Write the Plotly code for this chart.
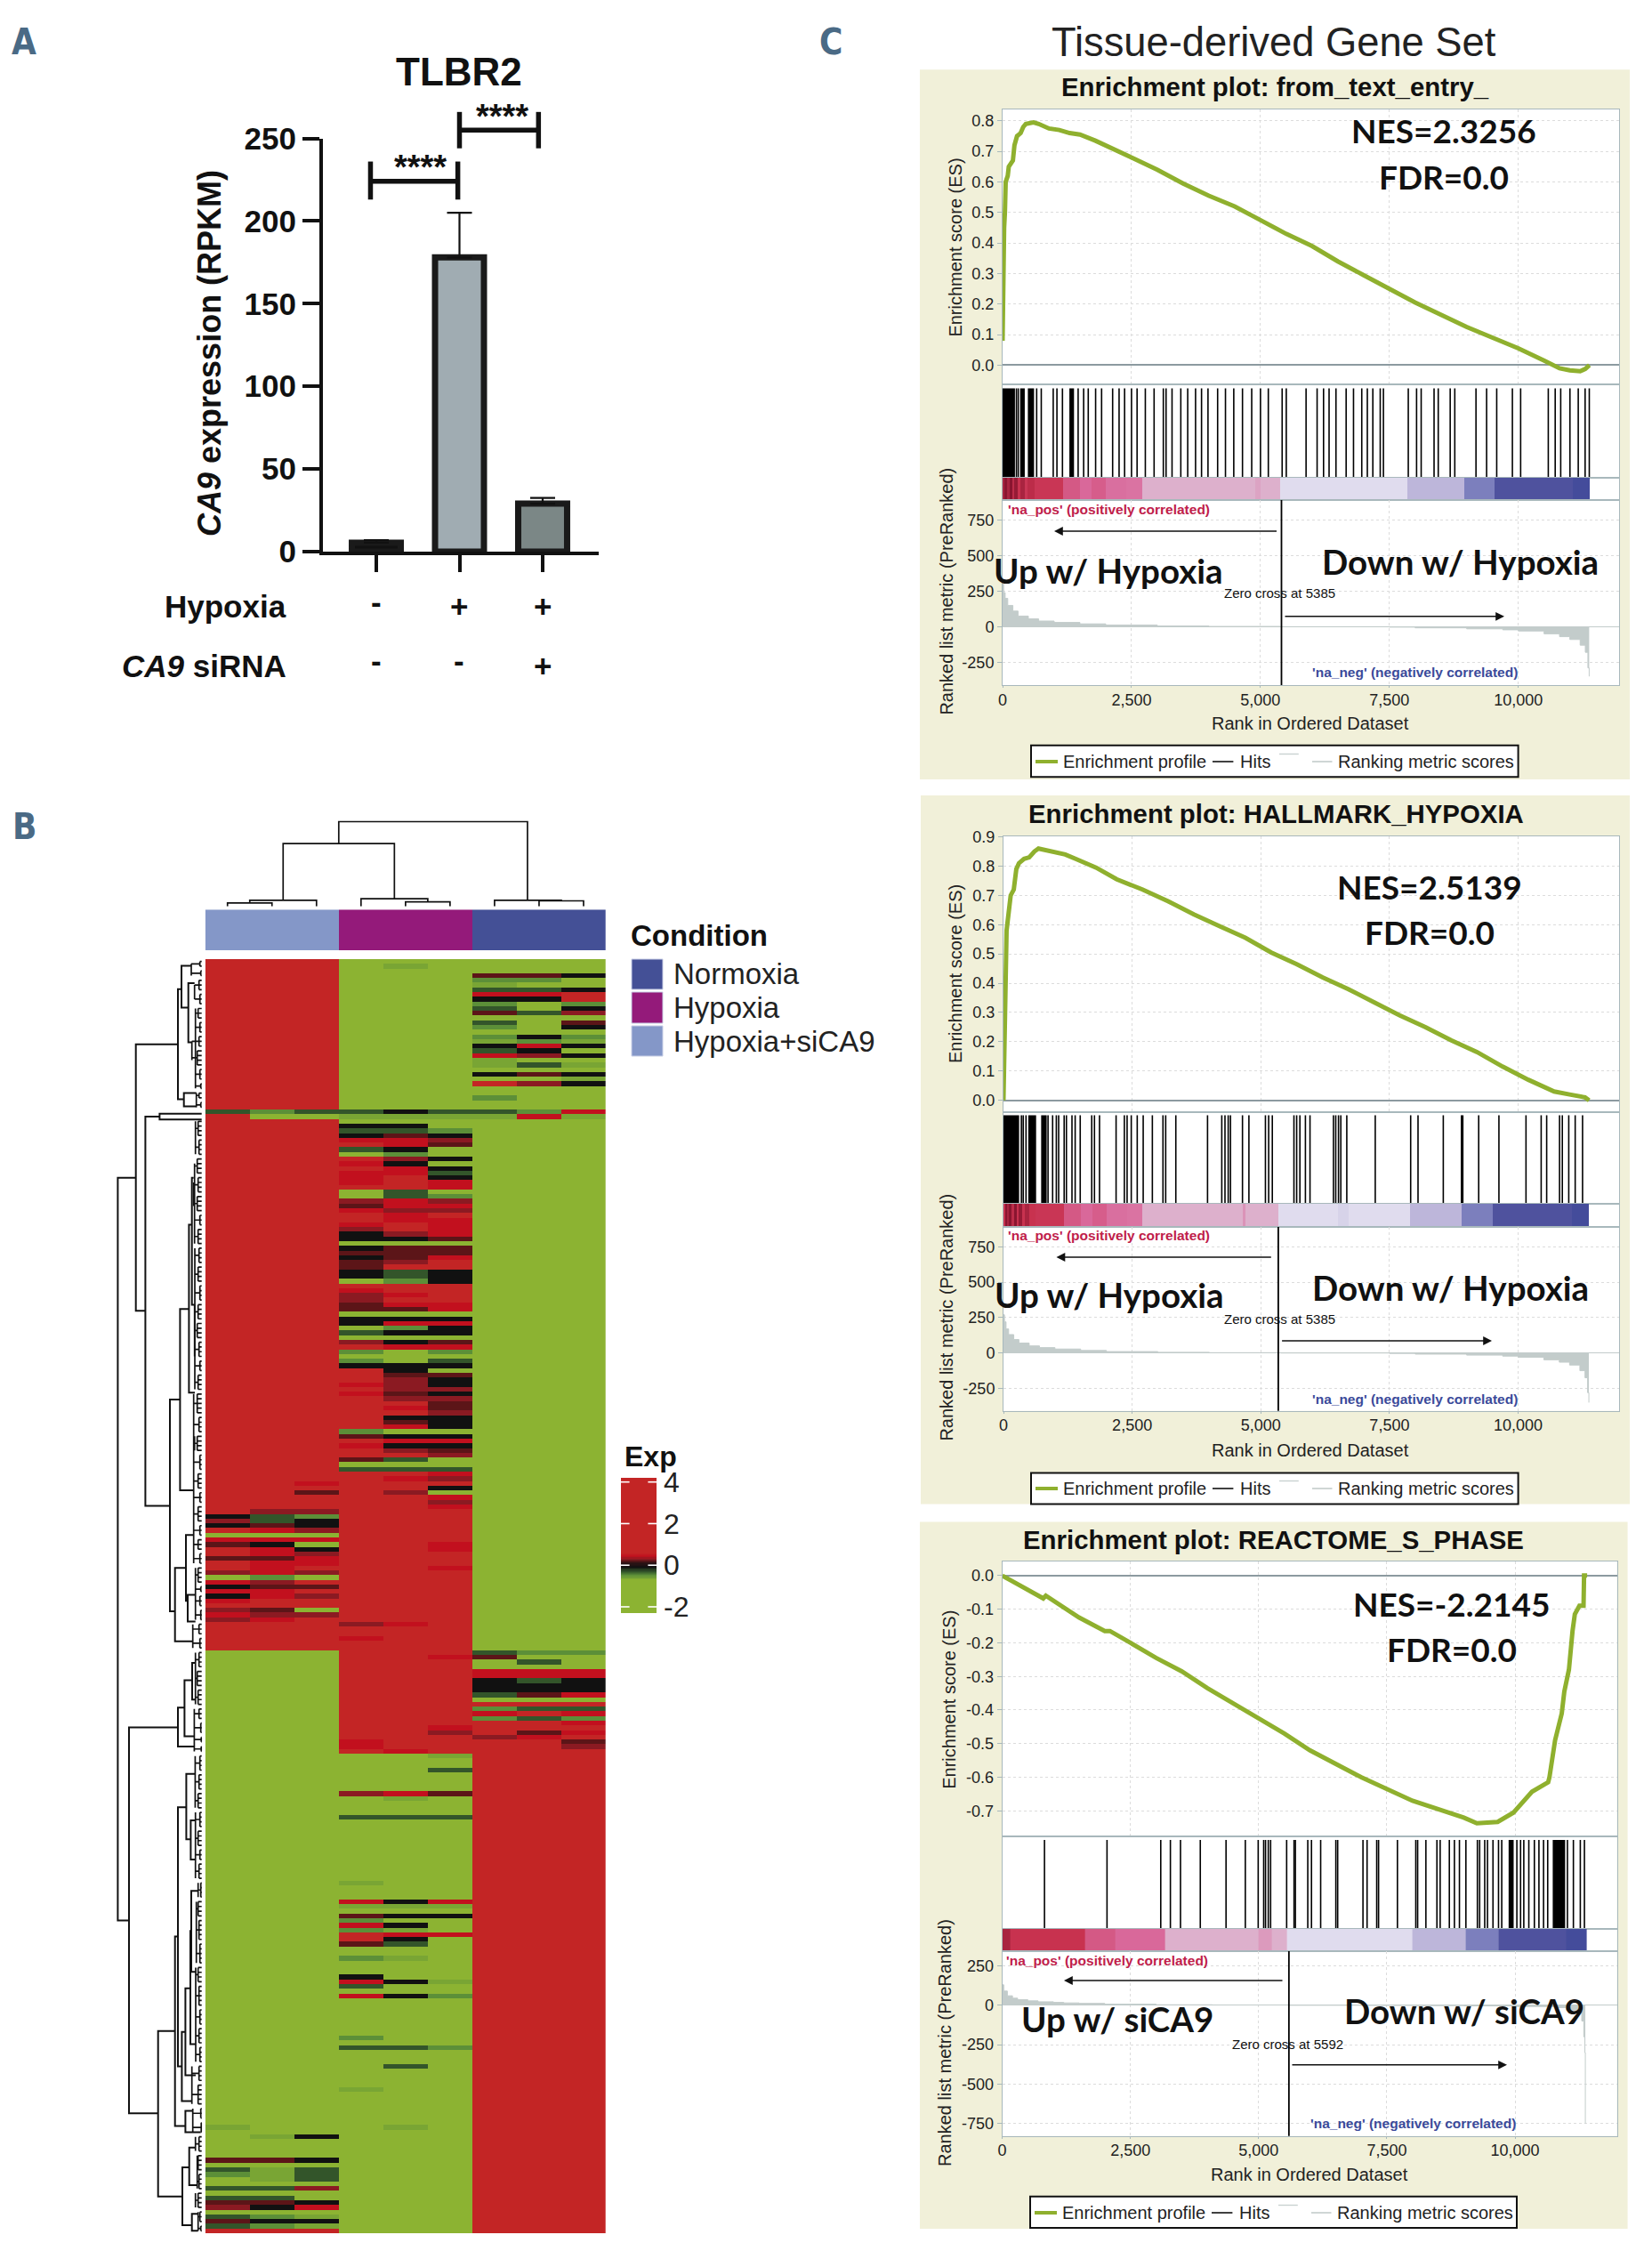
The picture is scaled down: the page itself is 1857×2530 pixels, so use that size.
import numpy as np
import plotly.graph_objects as go
import plotly.io as pio

pio.templates.default = "none"

W, H = 1857, 2530
SANS = "Liberation Sans"
CAL = "Lato"
INK = "#111111"
LETTER = "Liberation Sans Narrow, DejaVu Sans Condensed, Roboto Condensed, Liberation Sans, sans-serif"

# ---------- Panel A data ----------
bar_pos = [0, 1, 2]
bar_values = [5.4, 178, 29]
bar_err_plus = [1.6, 27, 3.5]
bar_colors = ["#111111", "#a0acb2", "#7b8786"]
bar_ticks = [0, 50, 100, 150, 200, 250]
hypoxia_marks = ["-", "+", "+"]
sirna_marks = ["-", "-", "+"]
bracket1_x = [-0.07, -0.07, None, -0.07, 0.98, None, 0.98, 0.98]
bracket1_y = [213, 236, None, 224, 224, None, 213, 236]
bracket2_x = [1.0, 1.0, None, 1.0, 1.95, None, 1.95, 1.95]
bracket2_y = [244, 266, None, 255, 255, None, 244, 266]

# ---------- Panel B data ----------
heat_codes = {"G": -2, "h": -0.62, "g": -0.5, "n": -0.3, "K": -0.1, "d": 0.2, "m": 0.3, "B": 0.42, "R": 3}
heat_rows_total = 271
heat_base = [(0, 33, "RRRGGGGGG"), (34, 146, "RRRRRRGGG"), (147, 150, "GGGRRRGGG"),
             (151, 168, "GGGRRRRRR"), (169, 270, "GGGGGGRRR")]
heat_top = {
    1: "....h....", 3: "......ddK", 4: "......gg.", 5: "......h..", 6: "......nnK", 7: "......BBR",
    8: "......KKR", 9: "......g.g", 10: "......n.K", 11: "......dnm", 13: "......n.d", 14: "......g.K",
    16: "......gKg", 17: "......hgh", 18: "......KBK", 19: "......nK.", 20: "......BmK", 21: "......h..",
    22: "......hnh", 24: "......KdK", 25: "........h", 26: "......RmK", 29: "......g..",
    32: "ngnnKnngB", 33: "RGGhhhhBh",
}
heat_upper = {
    34: "...GGG...", 35: "...KKG...", 36: "...nng...", 37: "...KdK...", 38: "...BBm...", 39: "...RBd...",
    40: "...nKG...", 41: "...GgG...", 42: "...RmK...", 43: "...BKG...", 44: "...RBK...", 45: "...BBn...",
    46: "...BRK...", 47: "...BRB...", 48: "...RRB...", 49: "...GnG...", 50: "...Gng...", 51: "...mBm...",
    52: "...dBB...", 53: "...Bmm...", 54: "...RBR...", 55: "...RBB...", 56: "...BRB...", 57: "...mRB...",
    58: "...KmB...", 59: "...KKd...", 60: "...GGG...", 61: "...Kdd...", 62: "...ddd...", 63: "...KdB...",
    64: "...dmR...", 65: "...dRR...", 66: "...KnK...", 67: "...KnK...", 68: "...GgK...", 70: "...BRR...",
    71: "...mBR...", 72: "...mRR...", 73: "...dBB...", 74: "...ddB...", 75: "...GGG...", 76: "...KKK...",
    77: "...KBB...", 78: "...GgK...", 79: "...nKK...", 80: "...GGG...", 81: "...mKd...", 82: "...RBB...",
    83: "...gGg...", 84: "...GGG...", 85: "...gGn...", 86: "...KKK...", 87: "...RKG...", 88: "...Rdd...",
    89: "...RmK...", 90: "...BmK...", 91: "...Rmm...", 92: "...BdK...", 93: "...Rmm...", 94: "...RRd...",
    95: "...RBd...", 96: "...RRm...", 97: "...RKK...", 98: "...RdK...", 99: "...RBK...", 100: "...gGG...",
    101: "...dKK...", 102: "...RBB...", 103: "...BKK...", 104: "...Rmd...", 105: "...RRm...", 106: "...dnG...",
    107: "...GGG...", 108: "...nnn...", 109: "...RRB...", 110: "...RBm...",
}
heat_lower = {
    111: "..B..R...", 112: ".....K...", 113: "..d.mG...", 114: ".....B...", 115: ".....m...", 116: ".....B...",
    117: ".mm......", 118: "Kng......", 119: "mnK......", 120: "KdK......", 121: "RBm......", 122: "GGG......",
    123: "BBB......", 124: "dKG..B...", 125: "RBK..B...", 126: "RBm......", 127: "ddB......", 128: "RBB......",
    129: "RBR..B...", 130: "mBm......", 131: "GgG......", 132: "BmR......", 133: "Kdd......", 134: "BBR......",
    135: "KBm......", 136: "BRR......", 138: "mdG......", 139: "Bmm......", 140: "mBR......", 141: "...mB....",
    144: "...B.....", 147: "......ngg", 148: ".....BdGG", 149: ".......n.", 151: "......BBB", 152: "......BBB",
    153: "......KnK", 154: "......KKK", 155: "......KKK", 156: "......ndB", 157: "......GGG", 158: "......RRR",
    159: "......gnn", 160: "......BRB", 161: "......gng", 162: "......RRB", 163: ".....B...", 164: ".....mRdB",
    165: "......mB.", 166: "...B....d", 167: "...B....m", 168: "....B....",
}
heat_bottom = {
    169: ".....h...", 172: ".....n...", 177: "...mBd...", 178: "....h....", 182: "...nnn...", 196: "...h.....",
    200: "...BKB...", 201: "...hhh...", 203: "...dKK...", 204: "...g.....", 205: "...BK....", 206: "...gh....",
    207: "...RBB...", 208: "...RK....", 209: "...dn....", 212: "...gh....", 216: "...K.....", 217: "...BKh...",
    218: "...n.....", 220: "...BKg...", 229: "...g.....", 231: "...nng...", 235: "....n....", 240: "...h.....",
    248: "h...h....", 250: ".hK......", 255: "ddK......", 257: "nhn......", 258: "ghn......", 259: ".hn......",
    261: "nnm......", 263: "nn.......", 264: "ddK......", 265: "mKB......", 267: "ngh......", 268: "dKK......",
    269: "ngh......", 270: "RRR......",
}
condition_groups = [[0, 0, 0, 1, 1, 1, 2, 2, 2]]
condition_names = ["Normoxia", "Hypoxia", "Hypoxia+siCA9"]
condition_colors = ["#445096", "#941a7a", "#8497c8"]
colorbar_ticks = [4, 2, 0, -2]

# (height, left column, right column, left child height, right child height)
top_dendro = [(7, 0, 1, 0, 0), (12, 0.5, 2, 7, 0), (9, 4, 5, 0, 0), (15, 3, 4.5, 0, 9), (123, 1.25, 3.75, 12, 15),
              (11, 7, 8, 0, 0), (12, 6, 7.5, 0, 11), (166, 2.5, 6.74, 123, 12)]
# (height, top row, bottom row, top child height, bottom child height)
left_nodes = [
    (98.3, 46, 204, 78, 85.7), (78, 17.6, 74.3, 30.7, 67.3), (67.3, 33, 115.8, 51.3, 39.7), (51.3, 32.4, 33.6, 4, 4),
    (39.7, 93.2, 138.2, 28.3, 34), (28.3, 73.9, 112.5, 18.3, 13), (18.3, 56, 91.7, 15, 11.7), (15, 46, 73, 13, 11.7),
    (30.7, 5.9, 29.3, 26.7, 24), (26.7, 0.9, 9.8, 15.7, 19), (19, 4.6, 17.2, 12, 15), (24, 28, 30.8, 10, 10),
    (34, 129, 144.6, 21.7, 14), (21.7, 122, 136, 13, 19.7), (19.7, 134.7, 140.4, 11, 11),
    (85.7, 162.9, 245, 30.7, 53), (30.7, 158.7, 167, 23.3, 12.3), (23.3, 152.9, 164.8, 14.7, 12.3),
    (14.7, 149.2, 157, 11, 11), (53, 227.5, 262.7, 34, 25.7), (34, 207.4, 247.7, 30.7, 22.3),
    (30.7, 179.9, 235, 21.3, 26.3), (21.3, 172.8, 186.7, 11.3, 16.3), (16.3, 182.7, 191, 11, 11),
    (26.3, 227.7, 242.4, 22.3, 15), (22.3, 218.4, 236.9, 16.7, 10.7), (16.7, 206.2, 230.3, 15.7, 10.7),
    (15.7, 197.7, 214.9, 8, 10.7), (22.3, 244.5, 249, 14, 5), (25.7, 256.5, 268.8, 18, 15),
    (18, 252.3, 260.3, 11, 9), (15, 266.4, 270, 8, 8),
]
left_spines = [(15.7, 0.5, 3), (12, 5, 8), (11, 10, 27), (15, 17, 21), (10, 28, 31), (11, 34, 41), (12, 43, 60),
               (13, 47, 52), (11.7, 61, 91), (12, 73, 84), (13, 92, 128), (12, 101, 104), (11, 129, 140),
               (14, 141, 146), (11, 147, 158), (12.3, 159, 168), (11.3, 169, 180), (11, 181, 195), (8, 196, 199),
               (10, 200, 213), (10.7, 214, 234), (15, 235, 243), (14, 244, 249), (11, 250, 253), (9, 254, 261),
               (11, 262, 265), (8, 266, 270)]
# (first row, last row, comb height, parent height)
leaf_clusters = [
    (0, 1, 6, 15.7), (2, 3, 5, 15.7), (4, 6, 7, 12), (7, 9, 6, 12), (10, 12, 8, 11), (13, 15, 6, 11), (16, 18, 7, 15),
    (19, 22, 9, 15), (23, 25, 6, 11), (26, 27, 5, 11), (28, 29, 7, 10), (30, 31, 5, 10), (34, 37, 8, 11), (38, 41, 7, 11),
    (42, 45, 9, 12), (46, 49, 8, 13), (50, 53, 9, 13), (54, 56, 6, 12), (57, 60, 8, 12), (61, 64, 7, 11.7), (65, 68, 8, 11.7),
    (69, 72, 6, 11.7), (73, 76, 8, 12), (77, 80, 9, 12), (81, 84, 7, 11.7), (85, 87, 6, 11.7), (88, 91, 8, 11.7),
    (92, 96, 9, 13), (97, 100, 7, 13), (101, 104, 9, 12), (105, 108, 6, 13), (109, 112, 8, 13), (113, 115, 6, 13),
    (116, 119, 8, 13), (120, 122, 6, 13), (123, 125, 8, 13), (126, 128, 6, 13), (129, 132, 8, 11), (133, 134, 5, 11),
    (135, 137, 6, 11), (138, 140, 5, 11), (141, 143, 7, 14), (144, 146, 6, 14), (147, 150, 7, 11), (151, 154, 9, 11),
    (155, 158, 8, 11), (159, 161, 7, 12.3), (162, 164, 5, 12.3), (165, 166, 4.5, 12.3), (167, 168, 4.5, 12.3),
    (169, 172, 6, 11.3), (173, 176, 7, 11.3), (177, 180, 8, 11.3), (181, 184, 6, 11), (185, 188, 8, 11), (189, 191, 6, 11),
    (192, 195, 7, 11), (196, 199, 5, 8), (200, 203, 8, 10), (204, 208, 7, 10), (209, 213, 6, 10), (214, 217, 8, 10.7),
    (218, 222, 7, 10.7), (223, 226, 6, 10.7), (227, 230, 7, 10.7), (231, 234, 6, 10.7), (235, 238, 7, 15), (239, 243, 8, 15),
    (244, 246, 5, 14), (247, 249, 4.5, 14), (250, 253, 7, 11), (254, 257, 8, 9), (258, 261, 7, 9), (262, 265, 8, 11),
    (266, 268, 6, 8), (269, 270, 5, 8),
]

# ---------- Panel C data ----------
es1_rank = [0, 10, 30, 45, 60, 100, 120, 200, 230, 280, 350, 400, 450, 600, 700, 900, 1100, 1300, 1500, 1800, 2100, 2500,
            3000, 3500, 4000, 4500, 5000, 5500, 6000, 6500, 7000, 7500, 8000, 8500, 9000, 9500, 10000, 10500, 10800,
            11000, 11200, 11300, 11380]
es1_score = [0.08, 0.3, 0.45, 0.5, 0.6, 0.62, 0.65, 0.67, 0.72, 0.75, 0.76, 0.78, 0.79, 0.795, 0.79, 0.775, 0.77, 0.76,
             0.755, 0.735, 0.71, 0.68, 0.64, 0.595, 0.555, 0.52, 0.475, 0.43, 0.39, 0.34, 0.295, 0.25, 0.205, 0.165,
             0.125, 0.09, 0.055, 0.015, -0.01, -0.017, -0.02, -0.012, 0]
es2_rank = [0, 15, 30, 60, 100, 140, 200, 250, 300, 400, 500, 600, 680, 800, 1000, 1200, 1400, 1800, 2200, 2700, 3200,
            3700, 4200, 4700, 5200, 5700, 6200, 6700, 7200, 7700, 8200, 8700, 9200, 9700, 10200, 10700, 11000, 11300, 11380]
es2_score = [0, 0.2, 0.45, 0.58, 0.64, 0.7, 0.72, 0.79, 0.81, 0.825, 0.83, 0.85, 0.86, 0.855, 0.85, 0.84, 0.825, 0.795,
             0.755, 0.72, 0.68, 0.635, 0.595, 0.555, 0.505, 0.465, 0.42, 0.38, 0.335, 0.29, 0.25, 0.205, 0.165, 0.115,
             0.07, 0.03, 0.02, 0.01, 0]
es3_rank = [0, 300, 500, 800, 850, 1000, 1500, 2000, 2100, 2500, 3000, 3500, 4000, 4500, 5000, 5500, 6000, 6500, 7000,
            7500, 8000, 8500, 9000, 9255, 9660, 9970, 10330, 10645, 10670, 10780, 10910, 10960, 11050, 11120, 11165,
            11255, 11335, 11345, 11405]
es3_score = [0, -0.025, -0.045, -0.068, -0.06, -0.075, -0.125, -0.165, -0.165, -0.2, -0.245, -0.285, -0.335, -0.38,
             -0.425, -0.47, -0.52, -0.56, -0.6, -0.635, -0.67, -0.695, -0.72, -0.737, -0.733, -0.705, -0.643, -0.615,
             -0.6, -0.49, -0.41, -0.345, -0.28, -0.165, -0.115, -0.09, -0.09, 0, 0]

hits1_ranks = [268, 304, 661, 750, 982, 1054, 1161, 1465, 1572, 1661, 1804, 1920, 2134, 2259, 2366, 2500, 2608, 2768,
               2938, 3117, 3170, 3286, 3456, 3590, 3742, 3858, 3983, 4170, 4322, 4483, 4652, 4831, 5001, 5153, 5421,
               5501, 5885, 6099, 6224, 6331, 6465, 6662, 6805, 6965, 7073, 7180, 7323, 7385, 7867, 8028, 8117, 8367,
               8448, 8680, 8769, 9180, 9386, 9582, 9886, 10046, 10582, 10716, 10823, 11002, 11163, 11296, 11377]
hits1_blocks = [(0, 240), (340, 430), (490, 610), (1295, 1385)]
hits2_ranks = [348, 384, 438, 866, 955, 1027, 1072, 1179, 1223, 1331, 1393, 1491, 1715, 1768, 1866, 2188, 2349, 2402,
               2483, 2599, 2715, 2893, 3099, 3152, 3349, 3965, 4242, 4304, 4367, 4411, 4644, 4769, 5090, 5153, 5224,
               5644, 5697, 5760, 5867, 5956, 6412, 6456, 6510, 6555, 6671, 7224, 7912, 8055, 8546, 9234, 9627, 10153,
               10448, 10555, 10805, 10859, 10984, 11109, 11252]
hits2_blocks = [(0, 304), (482, 634), (732, 840), (8885, 8939)]
hits3_ranks = [824, 2043, 3091, 3279, 3476, 3862, 4364, 4740, 4991, 5098, 5134, 5188, 5233, 5546, 5690, 5716, 5958, 6030,
               6209, 6505, 6541, 7034, 7114, 7302, 7338, 7706, 8064, 8100, 8261, 8476, 8539, 8718, 8817, 8915, 9041, 9265,
               9309, 9408, 9462, 9569, 9677, 9740, 10035, 10107, 10170, 10268, 10376, 10465, 10555, 10636, 11021, 11137,
               11272, 11352]
hits3_blocks = [(9874, 9972), (10734, 10976)]

band1_edges = [0, 40, 90, 130, 190, 230, 300, 350, 430, 480, 620, 1170, 1500, 1720, 2000, 2400, 2700, 4900, 5000, 5385,
               7850, 8950, 9540, 11050, 11380]
band1_vals = [.95, 1, .95, 1, .92, .98, .9, .95, .88, .92, .88, .72, .65, .7, .62, .6, .32, .38, .32, -.3, -.5, -.7, -.9, -1]
band2_edges = [0, 30, 70, 110, 160, 200, 260, 300, 360, 420, 500, 620, 1170, 1500, 1720, 2000, 2400, 2700, 4650, 4700,
               5340, 6500, 6700, 7900, 8900, 9500, 11050, 11380]
band2_vals = [.9, 1, .95, 1, .92, 1, .9, .98, .9, .95, .9, .88, .72, .65, .7, .62, .6, .32, .45, .32, -.3, -.35, -.3, -.5,
              -.7, -.9, -1]
band3_edges = [0, 160, 1620, 2200, 3180, 5000, 5250, 5550, 8000, 9040, 9680, 11000, 11405]
band3_vals = [.95, .9, .72, .65, .32, .42, .32, -.3, -.5, -.7, -.9, -1]

metric1_rank = [0, 20, 50, 100, 200, 300, 500, 700, 1000, 1500, 2000, 3000, 4000, 5385, 7500, 8000, 9000, 9700, 10000,
                10500, 10800, 11000, 11200, 11300, 11350, 11375]
metric1_val = [300, 240, 200, 150, 110, 75, 55, 40, 30, 20, 12, 5, 2, 0, -3, -8, -15, -22, -30, -50, -70, -90, -130, -180,
               -290, -350]
metric2_rank = [0, 20, 50, 100, 200, 300, 500, 700, 1000, 1500, 2000, 3000, 4000, 5385, 7500, 8000, 9000, 9700, 10000,
                10500, 10800, 11000, 11200, 11300, 11350, 11375]
metric2_val = [270, 220, 170, 130, 95, 70, 50, 38, 28, 18, 10, 5, 2, 0, -3, -8, -15, -22, -30, -48, -65, -85, -125, -175,
               -280, -350]
metric3_rank = [0, 30, 100, 200, 300, 500, 700, 1000, 1200, 1500, 2000, 3000, 4100, 5592, 7000, 8000, 9000, 10000, 10800,
                11000, 11200, 11300, 11340, 11360, 11370]
metric3_val = [130, 90, 60, 45, 35, 28, 22, 18, 15, 12, 7, 3, 2, 0, -1, -2, -4, -8, -15, -30, -50, -100, -200, -300, -750]

panels = [
    dict(es_rank=es1_rank, es=es1_score, hits=hits1_ranks, blocks=hits1_blocks, band=(band1_edges, band1_vals),
         metric=(metric1_rank, metric1_val), title="Enrichment plot: from_text_entry_", nes="NES=2.3256", up="Up w/ Hypoxia",
         down="Down w/ Hypoxia", zero_text="Zero cross at 5385", zero_x=5408, zero_y=(917, -452),
         es_ticks=[.8, .7, .6, .5, .4, .3, .2, .1, 0], es_range=(-0.064, 0.838), rk_ticks=[750, 500, 250, 0, -250],
         rk_range=(-411, 892), xmax=11960, left=1127, right=1820.3, top=122.8, es_bot=432.4, band_top=537, rank_top=562,
         rank_bot=770, bg=(1034, 78.3, 1832, 876), title_xy=(1433.4, 97.7), nes_xy=(1622.5, 146), fdr_y=198.6,
         up_xy=(1246, 640.5), down_xy=(1641.6, 631), zero_xy=(1438, 666.7), larrow=(1436.5, 1185, 597),
         rarrow=(1443, 1691, 692.8), pos_xy=(1130.7, 572.5), neg_xy=(1472.7, 755.6), xtitle=(1473, 813),
         box=(1159, 837.7, 1706.6, 873.3), legy=856, es_title=(1074, 278.6), rk_title=(1063.6, 665)),
    dict(es_rank=es2_rank, es=es2_score, hits=hits2_ranks, blocks=hits2_blocks, band=(band2_edges, band2_vals),
         metric=(metric2_rank, metric2_val), title="Enrichment plot: HALLMARK_HYPOXIA", nes="NES=2.5139", up="Up w/ Hypoxia",
         down="Down w/ Hypoxia", zero_text="Zero cross at 5385", zero_x=5340, zero_y=(912, -423),
         es_ticks=[.9, .8, .7, .6, .5, .4, .3, .2, .1, 0], es_range=(-0.039, 0.903), rk_ticks=[750, 500, 250, 0, -250],
         rk_range=(-409, 892.6), xmax=11967, left=1128, right=1820.3, top=939.6, es_bot=1249.5, band_top=1352.8,
         rank_top=1378.6, rank_bot=1585.8, bg=(1035, 894, 1832, 1690.6), title_xy=(1434, 914), nes_xy=(1607, 997), fdr_y=1047.5,
         up_xy=(1247, 1455), down_xy=(1630, 1447), zero_xy=(1438, 1483), larrow=(1430.3, 1187.5, 1413),
         rarrow=(1439.6, 1677, 1507), pos_xy=(1130.7, 1388), neg_xy=(1472.7, 1572), xtitle=(1473, 1630),
         box=(1159, 1655.5, 1706.6, 1690.6), legy=1673, es_title=(1074, 1095), rk_title=(1063.6, 1481)),
    dict(es_rank=es3_rank, es=es3_score, hits=hits3_ranks, blocks=hits3_blocks, band=(band3_edges, band3_vals),
         metric=(metric3_rank, metric3_val), title="Enrichment plot: REACTOME_S_PHASE", nes="NES=-2.2145", up="Up w/ siCA9",
         down="Down w/ siCA9", zero_text="Zero cross at 5592", zero_x=5590, zero_y=(374, -841),
         es_ticks=[0, -.1, -.2, -.3, -.4, -.5, -.6, -.7], es_range=(-0.776, 0.042), rk_ticks=[250, 0, -250, -500, -750],
         rk_range=(-829, 343), xmax=11988, left=1126.6, right=1817.7, top=1755, es_bot=2064, band_top=2168, rank_top=2193,
         rank_bot=2400.8, bg=(1034, 1710.5, 1829.6, 2505), title_xy=(1431, 1730.3), nes_xy=(1631.7, 1802), fdr_y=1853,
         up_xy=(1255.7, 2269), down_xy=(1645.7, 2260), zero_xy=(1447, 2297), larrow=(1443, 1196, 2226),
         rarrow=(1451, 1694, 2320.8), pos_xy=(1129, 2203), neg_xy=(1470.6, 2386.7), xtitle=(1471.6, 2443.7),
         box=(1158, 2468.8, 1705, 2504), legy=2487, es_title=(1067, 1910.8), rk_title=(1062, 2296)),
]
rank_ticks = [0, 2500, 5000, 7500, 10000]
rank_labels = ["0", "2,500", "5,000", "7,500", "10,000"]

# ---------- Helpers ----------
fig = go.Figure()
layout = {}
annotations = []
shapes = []


def xdom(a, b):
    return [a / W, b / W]


def ydom(top, bottom):
    return [1 - bottom / H, 1 - top / H]


def add_text(x, y, text, size, color="#111111", family=SANS, bold=False, anchor="center", angle=0):
    annotations.append(dict(x=x / W, y=1 - y / H, xref="paper", yref="paper", text=f"<b>{text}</b>" if bold else text,
                            showarrow=False, xanchor=anchor, yanchor="middle", textangle=angle,
                            font=dict(size=size, color=color, family=family)))


def add_rect(x0, y0, x1, y1, fill, line=None, lw=0, layer="below"):
    shapes.append(dict(type="rect", xref="paper", yref="paper", x0=x0 / W, x1=x1 / W, y0=1 - y0 / H, y1=1 - y1 / H,
                       fillcolor=fill, line=dict(color=line or fill, width=lw), layer=layer))


def add_line(x0, y0, x1, y1, color, lw):
    shapes.append(dict(type="line", xref="paper", yref="paper", x0=x0 / W, x1=x1 / W, y0=1 - y0 / H, y1=1 - y1 / H,
                       line=dict(color=color, width=lw), layer="above"))


def add_arrow(x_from, x_to, y):
    annotations.append(dict(x=x_to / W, y=1 - y / H, xref="paper", yref="paper", ax=x_from - x_to, ay=0, axref="pixel",
                            ayref="pixel", text="", showarrow=True, arrowhead=2, arrowsize=1.4, arrowwidth=1.4,
                            arrowcolor="#111111"))


hidden = dict(visible=False, fixedrange=True)

# ---------- Panel A ----------
layout["xaxis"] = dict(domain=xdom(363, 673), range=[-0.642, 2.674], anchor="y", tickmode="array", tickvals=bar_pos,
                       showticklabels=False, ticks="outside", ticklen=19, tickwidth=4, tickcolor=INK, showline=True,
                       linecolor=INK, linewidth=4, showgrid=False, zeroline=False)
layout["yaxis"] = dict(domain=ydom(155.5, 620), range=[0, 250], anchor="x", tickmode="array", tickvals=bar_ticks,
                       ticks="outside", ticklen=19, tickwidth=4, tickcolor=INK, showline=True, linecolor=INK,
                       linewidth=4, showgrid=False, zeroline=False,
                       tickfont=dict(size=35, family=SANS, color=INK, weight="bold"))
fig.add_trace(go.Bar(x=bar_pos, y=bar_values, width=0.588, marker=dict(color=bar_colors, line=dict(color="#1a1a1a", width=7)),
                     error_y=dict(type="data", symmetric=False, array=bar_err_plus, arrayminus=[0, 0, 0], color=INK,
                                  thickness=2.2, width=14), showlegend=False, xaxis="x", yaxis="y", cliponaxis=False))
# brackets share the bar scale on a taller hidden axis
layout["yaxis6"] = dict(domain=ydom(100, 620), range=[0, 279.9], anchor="x", **hidden)
for bx, by in ((bracket1_x, bracket1_y), (bracket2_x, bracket2_y)):
    fig.add_trace(go.Scatter(x=bx, y=by, mode="lines", line=dict(color=INK, width=5.5), showlegend=False, xaxis="x", yaxis="y6"))

add_text(27, 47, "A", 40, "#4a6a85", LETTER, True)
add_text(27, 929, "B", 40, "#4a6a85", LETTER, True)
add_text(934, 47, "C", 40, "#4a6a85", LETTER, True)
add_text(516, 80, "TLBR2", 44, INK, SANS, True)
add_text(472, 188, "****", 38, INK, SANS, True)
add_text(564, 131, "****", 38, INK, SANS, True)
add_text(236, 397, "<i>CA9</i> expression (RPKM)", 36, INK, SANS, True, angle=-90)
add_text(324, 681, "Hypoxia", 35, INK, SANS, True, anchor="right")
add_text(324, 748.5, "<i>CA9</i> siRNA", 35, INK, SANS, True, anchor="right")
for px, h_mark, s_mark in zip([423, 516, 610], hypoxia_marks, sirna_marks):
    add_text(px, 676 if h_mark == "-" else 681, h_mark, 35, INK, SANS, True)
    add_text(px, 742 if s_mark == "-" else 748, s_mark, 35, INK, SANS, True)

# ---------- Panel B ----------
z_rows = []
for a, b, pat in heat_base:
    for r in range(a, b + 1):
        z_rows.append(list(pat))
for detail in (heat_top, heat_upper, heat_lower, heat_bottom):
    for r, pat in detail.items():
        z_rows[r] = [c if p == "." else p for c, p in zip(z_rows[r], pat)]
heat_z = [[heat_codes[c] for c in row] for row in z_rows]
ZMIN, ZMAX = -2.3, 4.2


def zf(v):
    return (v - ZMIN) / (ZMAX - ZMIN)


heat_scale = [[0, "#8cb332"], [zf(-0.7), "#8cb332"], [zf(-0.5), "#5c8f38"], [zf(-0.3), "#33552a"], [zf(-0.1), "#111111"],
              [zf(0.08), "#2a1214"], [zf(0.2), "#5c1518"], [zf(0.3), "#8b1a22"], [zf(0.42), "#c2101e"], [zf(0.6), "#c32525"],
              [1, "#c32525"]]
layout["xaxis2"] = dict(domain=xdom(230.7, 681), range=[-0.5, 8.5], anchor="y2", **hidden)
layout["yaxis2"] = dict(domain=ydom(1078, 2510), range=[heat_rows_total - 0.5, -0.5], anchor="x2", **hidden)
fig.add_trace(go.Heatmap(z=heat_z, x=list(range(9)), y=list(range(heat_rows_total)), colorscale=heat_scale, zmin=ZMIN, zmax=ZMAX,
                         showscale=False, xaxis="x2", yaxis="y2", hoverinfo="skip"))
# condition annotation bar
layout["yaxis3"] = dict(domain=ydom(1022.3, 1068), range=[-0.5, 0.5], anchor="x2", **hidden)
fig.add_trace(go.Heatmap(z=condition_groups, x=list(range(9)), y=[0], zmin=0, zmax=2, showscale=False, xaxis="x2", yaxis="y3",
                         colorscale=[[0, condition_colors[2]], [0.33, condition_colors[2]], [0.34, condition_colors[1]],
                                     [0.66, condition_colors[1]], [0.67, condition_colors[0]], [1, condition_colors[0]]],
                         hoverinfo="skip"))
# top dendrogram
layout["yaxis4"] = dict(domain=ydom(917.76, 1018.8), range=[0, 176], anchor="x2", **hidden)
tx, ty = [], []
for h, a, b, ha, hb in top_dendro:
    tx += [a, a, b, b, None]
    ty += [ha, h, h, hb, None]
fig.add_trace(go.Scatter(x=tx, y=ty, mode="lines", line=dict(color=INK, width=1.7), showlegend=False, xaxis="x2", yaxis="y4",
                         cliponaxis=False, hoverinfo="skip"))
# left dendrogram
layout["xaxis3"] = dict(domain=xdom(130.7, 230.7), range=[100, 0], anchor="y2", **hidden)
lx, ly = [], []
for h, r0, r1, h0, h1 in left_nodes:
    lx += [h0, h, h, h1, None]
    ly += [r0, r0, r1, r1, None]
fig.add_trace(go.Scatter(x=lx, y=ly, mode="lines", line=dict(color=INK, width=2), showlegend=False, xaxis="x3", yaxis="y2",
                         cliponaxis=False, hoverinfo="skip"))
sx, sy = [], []
for h, r0, r1 in left_spines:
    sx += [h, h, None]
    sy += [r0, r1, None]
for r0, r1, h, parent in leaf_clusters:
    sx += [h, h, None, parent, h, None]
    sy += [r0, r1, None, (r0 + r1) / 2, (r0 + r1) / 2, None]
    for r in range(r0, r1 + 1):
        sx += [h, 4, None]
        sy += [r, r, None]
fig.add_trace(go.Scatter(x=sx, y=sy, mode="lines", line=dict(color=INK, width=1.7), showlegend=False, xaxis="x3", yaxis="y2",
                         cliponaxis=False, hoverinfo="skip"))
# colour key
layout["xaxis4"] = dict(domain=xdom(698, 738), range=[0, 1], anchor="y5", **hidden)
layout["yaxis5"] = dict(domain=ydom(1661, 1813), range=[ZMIN, 4.2], anchor="x4", side="right", tickmode="array",
                        tickvals=colorbar_ticks, ticktext=[str(t) for t in colorbar_ticks], ticks="", showline=False,
                        showgrid=False, zeroline=False, tickfont=dict(size=32, family=SANS, color="#222222"), ticklabelstandoff=7)
key_levels = np.linspace(ZMIN, ZMAX, 131)
fig.add_trace(go.Heatmap(z=[[v] for v in key_levels], x=[0.5], y=key_levels, colorscale=heat_scale, zmin=ZMIN, zmax=ZMAX,
                         showscale=False, xaxis="x4", yaxis="y5", hoverinfo="skip"))
kx, ky = [], []
for t in colorbar_ticks:
    kx += [0, 0.24, None, 0.76, 1, None]
    ky += [t, t, None, t, t, None]
fig.add_trace(go.Scatter(x=kx, y=ky, mode="lines", line=dict(color="#ffffff", width=1.6), showlegend=False, xaxis="x4", yaxis="y5",
                         hoverinfo="skip"))
add_text(700, 1636.5, "Exp", 32, INK, SANS, True, anchor="left")
add_text(707, 1051, "Condition", 33, INK, SANS, True, anchor="left")
for i, (nm, col, y0, y1) in enumerate(zip(condition_names, condition_colors, [1078, 1115, 1153], [1112, 1150, 1187])):
    add_rect(710, y0, 745, y1, col, "#c9cfe6", 1, "above")
    add_text(755, (y0 + y1) / 2, nm, 33, "#222222", SANS, anchor="left")

# ---------- Panel C ----------
add_text(1432, 47, "Tissue-derived Gene Set", 45.3, "#222222", SANS)
band_scale = [[0, "#444c9b"], [0.05, "#4f529e"], [0.15, "#7c7fbd"], [0.25, "#bdb6da"], [0.35, "#e0dcee"], [0.65, "#ddb4cf"],
              [0.825, "#d9689a"], [0.95, "#c8324f"], [1, "#8a1530"]]
FRAME = "#a8b8bc"
GRID = "#dcdcdc"
GREEN = "#8fb02e"
TICKF = dict(size=18, family=SANS, color="#222222")
POS = "#c0204a"
NEG = "#3b4a9a"
n = 10
for p in panels:
    ax_es, ax_hits, ax_band, ax_rank = n, n + 1, n + 2, n + 3
    n += 4
    xd = xdom(p["left"], p["right"])
    add_rect(*p["bg"], "#f1f0d9")
    add_rect(p["left"], p["top"], p["right"], p["rank_bot"], "#ffffff")
    base_x = dict(domain=xd, range=[0, p["xmax"]], showline=True, mirror=True, linecolor=FRAME, linewidth=1, zeroline=False,
                  tickmode="array", tickvals=rank_ticks, fixedrange=True)
    base_y = dict(showline=True, mirror=True, linecolor=FRAME, linewidth=1, fixedrange=True)
    grid_kw = dict(showgrid=True, gridcolor=GRID, griddash="dot", gridwidth=1)
    layout[f"xaxis{ax_es}"] = dict(base_x, anchor=f"y{ax_es}", showticklabels=False, ticks="", **grid_kw)
    es_lab = [("%.1f" % t).replace("-0.0", "0.0") for t in p["es_ticks"]]
    layout[f"yaxis{ax_es}"] = dict(base_y, domain=ydom(p["top"], p["es_bot"]), range=list(p["es_range"]), anchor=f"x{ax_es}",
                                   tickmode="array", tickvals=p["es_ticks"], ticktext=es_lab, tickfont=TICKF, ticks="outside",
                                   ticklen=5, tickcolor=FRAME, zeroline=True, zerolinecolor="#8c9aa0", zerolinewidth=1.5, **grid_kw)
    fig.add_trace(go.Scatter(x=p["es_rank"], y=p["es"], mode="lines", line=dict(color=GREEN, width=5), showlegend=False,
                             xaxis=f"x{ax_es}", yaxis=f"y{ax_es}", hoverinfo="skip"))
    # hits
    layout[f"xaxis{ax_hits}"] = dict(base_x, anchor=f"y{ax_hits}", showticklabels=False, ticks="", showgrid=False)
    layout[f"yaxis{ax_hits}"] = dict(base_y, domain=ydom(p["es_bot"], p["band_top"]), range=[0, 1.04], anchor=f"x{ax_hits}",
                                     showticklabels=False, ticks="", showgrid=False, zeroline=False)
    hx, hy = [], []
    for r in p["hits"]:
        hx += [r, r, None]
        hy += [0, 1, None]
    fig.add_trace(go.Scatter(x=hx, y=hy, mode="lines", line=dict(color="#000000", width=1.6), showlegend=False,
                             xaxis=f"x{ax_hits}", yaxis=f"y{ax_hits}", hoverinfo="skip"))
    fig.add_trace(go.Bar(x=[(a + b) / 2 for a, b in p["blocks"]], y=[1] * len(p["blocks"]), width=[b - a for a, b in p["blocks"]],
                         marker=dict(color="#000000", line=dict(width=0)), showlegend=False,
                         xaxis=f"x{ax_hits}", yaxis=f"y{ax_hits}", hoverinfo="skip"))
    # colour band
    layout[f"xaxis{ax_band}"] = dict(base_x, anchor=f"y{ax_band}", showticklabels=False, ticks="", showgrid=False)
    layout[f"yaxis{ax_band}"] = dict(base_y, domain=ydom(p["band_top"], p["rank_top"]), range=[0, 1], anchor=f"x{ax_band}",
                                     showticklabels=False, ticks="", showgrid=False, zeroline=False)
    fig.add_trace(go.Heatmap(z=[p["band"][1]], x=p["band"][0], y=[0, 1], zmin=-1, zmax=1, colorscale=band_scale, showscale=False,
                             xaxis=f"x{ax_band}", yaxis=f"y{ax_band}", hoverinfo="skip"))
    # ranked metric
    layout[f"xaxis{ax_rank}"] = dict(base_x, anchor=f"y{ax_rank}", ticktext=rank_labels, tickfont=TICKF, ticks="outside", ticklen=2,
                                     tickcolor=FRAME, ticklabelstandoff=-2, **grid_kw)
    rk_lab = [str(t) for t in p["rk_ticks"]]
    layout[f"yaxis{ax_rank}"] = dict(base_y, domain=ydom(p["rank_top"], p["rank_bot"]), range=list(p["rk_range"]), anchor=f"x{ax_rank}",
                                     tickmode="array", tickvals=p["rk_ticks"], ticktext=rk_lab, tickfont=TICKF, ticks="outside",
                                     ticklen=5, tickcolor=FRAME, zeroline=True, zerolinecolor="#c3cccb", zerolinewidth=1, **grid_kw)
    fig.add_trace(go.Scatter(x=p["metric"][0], y=p["metric"][1], mode="lines", fill="tozeroy", fillcolor="#c3cccb",
                             line=dict(color="#c3cccb", width=1, shape="hv"), showlegend=False, xaxis=f"x{ax_rank}", yaxis=f"y{ax_rank}",
                             hoverinfo="skip"))
    fig.add_trace(go.Scatter(x=[p["zero_x"], p["zero_x"]], y=list(p["zero_y"]), mode="lines", line=dict(color="#000000", width=1.8),
                             cliponaxis=False, showlegend=False, xaxis=f"x{ax_rank}", yaxis=f"y{ax_rank}", hoverinfo="skip"))
    # texts
    add_text(*p["title_xy"], p["title"], 29.4, INK, SANS, True)
    add_text(*p["nes_xy"], p["nes"], 37, INK, CAL, True)
    add_text(p["nes_xy"][0], p["fdr_y"], "FDR=0.0", 37, INK, CAL, True)
    add_text(*p["up_xy"], p["up"], 38.5, INK, CAL, True)
    add_text(*p["down_xy"], p["down"], 38.5, INK, CAL, True)
    add_text(*p["zero_xy"], p["zero_text"], 15, INK, SANS)
    add_text(*p["pos_xy"], "'na_pos' (positively correlated)", 15.5, POS, SANS, True, anchor="left")
    add_text(*p["neg_xy"], "'na_neg' (negatively correlated)", 15.5, NEG, SANS, True, anchor="left")
    add_text(*p["xtitle"], "Rank in Ordered Dataset", 20, "#222222", SANS)
    add_text(*p["es_title"], "Enrichment score (ES)", 20, "#222222", SANS, angle=-90)
    add_text(*p["rk_title"], "Ranked list metric (PreRanked)", 20, "#222222", SANS, angle=-90)
    add_arrow(p["larrow"][0], p["larrow"][1], p["larrow"][2])
    add_arrow(p["rarrow"][0], p["rarrow"][1], p["rarrow"][2])
    # legend box
    bx0, by0, bx1, by1 = p["box"]
    add_rect(bx0, by0, bx1, by1, "#ffffff", "#111111", 2, "above")
    ly_c = p["legy"]
    add_line(bx0 + 5, ly_c, bx0 + 30, ly_c, GREEN, 4)
    add_text(bx0 + 33.7, ly_c, "Enrichment profile", 20, "#222222", SANS, anchor="left")
    add_line(bx0 + 204, ly_c, bx0 + 227.4, ly_c, "#111111", 1.6)
    add_text(bx0 + 232.6, ly_c, "Hits", 20, "#222222", SANS, anchor="left")
    add_line(bx0 + 279, ly_c - 8.5, bx0 + 300.8, ly_c - 8.5, "#c9d2d1", 1.4)
    add_line(bx0 + 316, ly_c, bx0 + 338.5, ly_c, "#c3cccb", 1.6)
    add_text(bx0 + 343, ly_c, "Ranking metric scores", 20, "#222222", SANS, anchor="left")

for k, v in layout.items():
    if k.startswith(("xaxis", "yaxis")):
        v["automargin"] = False

layout.update(width=W, height=H, autosize=False, margin=dict(l=0, r=0, t=0, b=0, pad=0), paper_bgcolor="#ffffff",
              plot_bgcolor="rgba(0,0,0,0)", showlegend=False, annotations=annotations, shapes=shapes, barmode="overlay",
              font=dict(family=SANS, color="#222222"))
fig.update_layout(**layout)
fig.write_html("out.html", post_script="document.body.style.margin='0';", config={"displayModeBar": False})
